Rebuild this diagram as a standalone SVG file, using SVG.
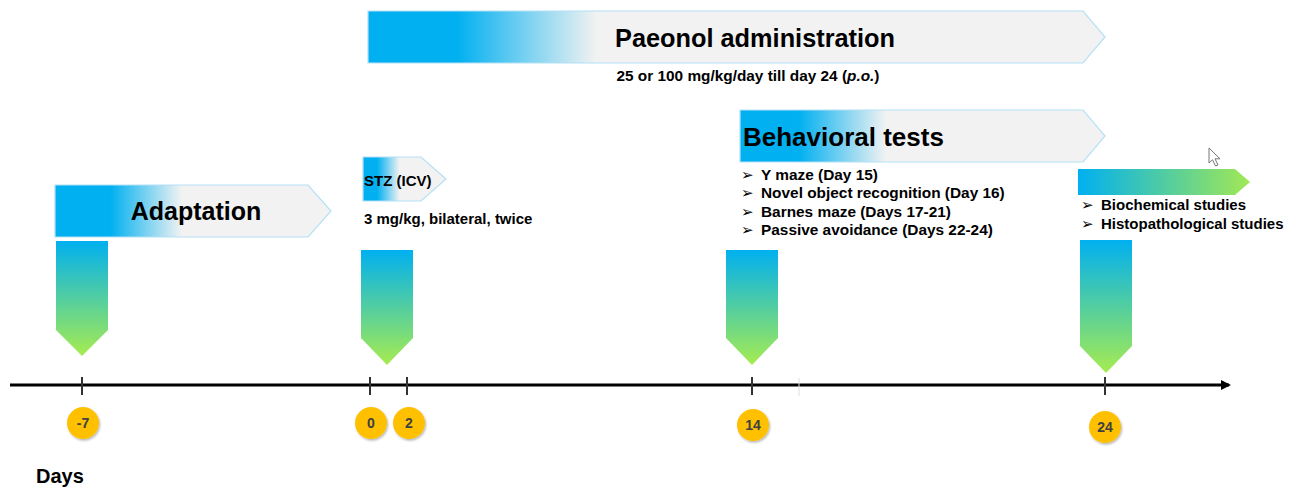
<svg xmlns="http://www.w3.org/2000/svg" width="1298" height="488" viewBox="0 0 1298 488">
<defs>
<linearGradient id="gPae" x1="0" y1="0" x2="1" y2="0"><stop offset="0.12" stop-color="#00B0F0"/><stop offset="0.31" stop-color="#F2F2F2"/></linearGradient>
<linearGradient id="gAd" x1="0" y1="0" x2="1" y2="0"><stop offset="0.2" stop-color="#00B0F0"/><stop offset="0.46" stop-color="#F2F2F2"/></linearGradient>
<linearGradient id="gBeh" x1="0" y1="0" x2="1" y2="0"><stop offset="0.16" stop-color="#00B0F0"/><stop offset="0.4" stop-color="#F2F2F2"/></linearGradient>
<linearGradient id="gStz" x1="0" y1="0" x2="1" y2="0"><stop offset="0.17" stop-color="#00B0F0"/><stop offset="0.44" stop-color="#F2F2F2"/></linearGradient>
<linearGradient id="gBio" x1="0" y1="0" x2="1" y2="0"><stop offset="0" stop-color="#00B0F0"/><stop offset="1" stop-color="#A2E854"/></linearGradient>
<linearGradient id="gDown" x1="0" y1="0" x2="0" y2="1"><stop offset="0" stop-color="#00B0F0"/><stop offset="1" stop-color="#A6EC50"/></linearGradient>
<filter id="sh" x="-30%" y="-30%" width="160%" height="160%"><feDropShadow dx="1" dy="1.5" stdDeviation="1" flood-color="#000" flood-opacity="0.3"/></filter>
<marker id="axHead" markerWidth="10" markerHeight="10" refX="8" refY="5" orient="auto" markerUnits="userSpaceOnUse"><path d="M0,0 L10,5 L0,10 Z" fill="#000"/></marker>
</defs>
<style>
.band{stroke:#B4E0F6;stroke-width:1.2}
.title{font-family:"Liberation Sans",Arial,sans-serif;font-weight:bold;fill:#000}
.small{font-family:"Liberation Sans",Arial,sans-serif;font-weight:bold;font-size:15px;fill:#000}
.bt{font-size:15.4px}
.bul{font-family:"DejaVu Sans",sans-serif;font-size:15px;fill:#000}
.circ{fill:#FFC000;filter:url(#sh)}
.num{font-family:"Liberation Sans",Arial,sans-serif;font-weight:bold;font-size:14px;fill:#404040;text-anchor:middle}
.tick{stroke:#333;stroke-width:2}
</style>
<rect width="1298" height="488" fill="#fff"/>

<g id="paeonol">
<path class="band" d="M368,11 H1083 L1105,37 L1083,63 H368 Z" fill="url(#gPae)"/>
<text class="title" x="755" y="47" font-size="26" text-anchor="middle" textLength="280" lengthAdjust="spacingAndGlyphs">Paeonol administration</text>
<text class="small" x="748" y="81" text-anchor="middle" textLength="263" lengthAdjust="spacingAndGlyphs">25 or 100 mg/kg/day till day 24 (<tspan font-style="italic">p.o.</tspan>)</text>
</g>

<g id="adaptation">
<path class="band" d="M55,185 H308 L331,211 L308,237 H55 Z" fill="url(#gAd)"/>
<text class="title" x="196" y="220" font-size="25" text-anchor="middle">Adaptation</text>
</g>

<g id="stz">
<path class="band" d="M363,157 H421 L446,179 L421,201 H363 Z" fill="url(#gStz)"/>
<text class="small" x="364" y="186">STZ (ICV)</text>
<text class="small" x="364" y="224">3 mg/kg, bilateral, twice</text>
</g>

<g id="behavioral">
<path class="band" d="M740,110 H1083 L1105,136 L1083,162 H740 Z" fill="url(#gBeh)"/>
<text class="title" x="743" y="146" font-size="26">Behavioral tests</text>
<text class="bul" x="741" y="180">➢</text><text class="small bt" x="761" y="180">Y maze (Day 15)</text>
<text class="bul" x="741" y="198">➢</text><text class="small bt" x="761" y="198">Novel object recognition (Day 16)</text>
<text class="bul" x="741" y="217">➢</text><text class="small bt" x="761" y="217">Barnes maze (Days 17-21)</text>
<text class="bul" x="741" y="235">➢</text><text class="small bt" x="761" y="235">Passive avoidance (Days 22-24)</text>
</g>

<g id="studies">
<path d="M1078,169 H1235 L1250,182 L1235,195 H1078 Z" fill="url(#gBio)"/>
<text class="bul" x="1081" y="210">➢</text><text class="small" x="1101" y="210">Biochemical studies</text>
<text class="bul" x="1081" y="229">➢</text><text class="small" x="1101" y="229">Histopathological studies</text>
</g>

<g id="cursor">
<path d="M1209,148 L1209,163 L1212.5,159.8 L1215.5,166 L1218,165 L1215,158.8 L1220,158.8 Z" fill="#fff" stroke="#777" stroke-width="1"/>
</g>

<g id="markers">
<path d="M56,241 H108 V330 L82,356 L56,330 Z" fill="url(#gDown)"/>
<path d="M361,250 H413 V338 L387,365 L361,338 Z" fill="url(#gDown)"/>
<path d="M726,250 H778 V338 L752,365 L726,338 Z" fill="url(#gDown)"/>
<path d="M1080,240 H1132 V346 L1106,373 L1080,346 Z" fill="url(#gDown)"/>
</g>

<g id="connectors">
<line x1="10" y1="385" x2="1229" y2="385" stroke="#000" stroke-width="3" marker-end="url(#axHead)"/>
<line class="tick" x1="82" y1="377" x2="82" y2="395"/>
<line class="tick" x1="370" y1="377" x2="370" y2="395"/>
<line class="tick" x1="407" y1="377" x2="407" y2="395"/>
<line class="tick" x1="752" y1="377" x2="752" y2="395"/>
<line x1="799" y1="378" x2="799" y2="396" stroke="#ddd" stroke-width="1"/>
<line class="tick" x1="1105" y1="377" x2="1105" y2="395"/>
</g>

<g id="day-7"><circle class="circ" cx="83" cy="423" r="16"/><text class="num" x="83" y="428">-7</text></g>
<g id="day0"><circle class="circ" cx="371" cy="423" r="16"/><text class="num" x="371" y="428">0</text></g>
<g id="day2"><circle class="circ" cx="409" cy="423" r="16"/><text class="num" x="409" y="428">2</text></g>
<g id="day14"><circle class="circ" cx="753" cy="425" r="16"/><text class="num" x="753" y="430">14</text></g>
<g id="day24"><circle class="circ" cx="1105" cy="427" r="16"/><text class="num" x="1105" y="432">24</text></g>

<text class="title" x="36" y="483" font-size="20">Days</text>
</svg>
